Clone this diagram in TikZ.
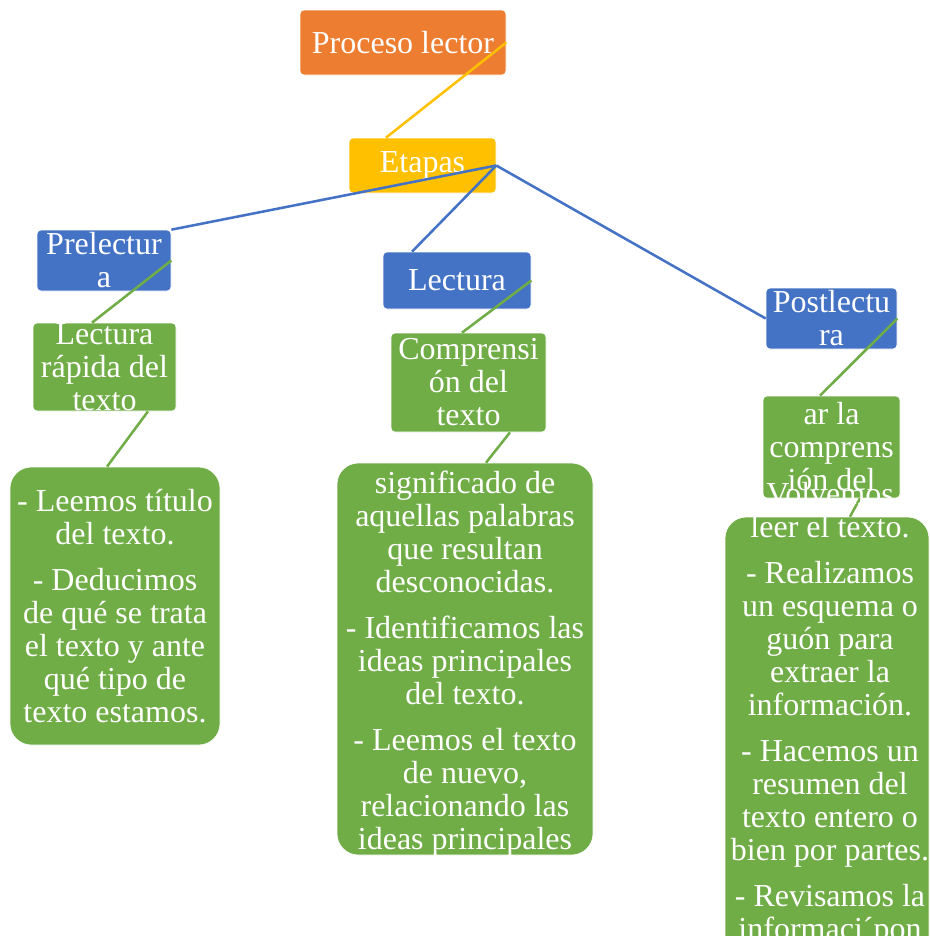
\documentclass[tikz,border=0pt]{standalone}
\usepackage{fontspec}
\setmainfont{Liberation Serif}
\usepackage{tikz}
\usetikzlibrary{shapes}

\definecolor{naranja}{HTML}{ED7D31}
\definecolor{amarillo}{HTML}{FFC000}
\definecolor{azul}{HTML}{4472C4}
\definecolor{verde}{HTML}{70AD47}

\begin{document}
\begin{tikzpicture}[x=0.75pt, y=-0.75pt,
        caja/.style = {draw=white, line width=0.5pt, rounded corners=3pt, text=white, align=center, inner sep=0pt, font=\fontsize{24}{24.75}\selectfont},
        grande/.style = {caja, rounded corners=16pt, fill=verde},
        linea/.style = {line width=1.9pt}]
                \clip (0,0) rectangle (930,936);

                \node[caja, fill=naranja, minimum width=154.5pt, minimum height=48.75pt] at (403, 42.5) (proceso) {Proceso lector};
                \node[caja, fill=amarillo, minimum width=110.25pt, minimum height=41.25pt] at (422.5, 165.5) (etapas) {Etapas};

                \node[caja, fill=azul, minimum width=100.5pt, minimum height=45.75pt] at (104, 260.5) (pre) {Prelectur\\a};
                \node[caja, fill=azul, minimum width=111pt, minimum height=42.75pt] at (457, 280.5) (lec) {Lectura};
                \node[caja, fill=azul, minimum width=98.25pt, minimum height=45.75pt] at (831.5, 318.5) (post) {Postlectu\\ra};

                \node[caja, fill=verde, minimum width=107.25pt, minimum height=66pt] at (104.5, 367) (rapida) {Lectura\\rápida del\\texto};
                \node[caja, fill=verde, minimum width=116.25pt, minimum height=74.25pt] at (468.5, 382.5) (compr) {Comprensi\\ón del\\texto};
                \node[caja, fill=verde, minimum width=102.75pt, minimum height=76.5pt] at (831.5, 447) (compro) {ar la\\comprens\\ión del};

                \node[grande, minimum width=157.5pt, minimum height=208.5pt] at (115, 606) (pasospre) {- Leemos título\\del texto.\\[9.75pt]- Deducimos\\de qué se trata\\el texto y ante\\qué tipo de\\texto estamos.};
                \node[grande, minimum width=192pt, minimum height=294pt] at (465, 659) (pasoslec) {};
                \node[grande, minimum width=153pt, minimum height=332.25pt] at (827, 738.5) (pasospost) {};

                \draw [linea, amarillo] (proceso.east) -- ([xshift=-27.375pt]etapas.north);
                \draw [linea, azul] (etapas.east) -- (pre.north east);
                \draw [linea, azul] (etapas.east) -- ([xshift=-33.75pt]lec.north);
                \draw [linea, azul] (etapas.east) -- (post.west);

                \draw [linea, verde] (pre.east) -- ([xshift=-9.375pt]rapida.north);
                \draw [linea, verde] ([xshift=32.625pt]rapida.south) -- ([xshift=-6pt]pasospre.north);
                \draw [linea, verde] (lec.east) -- ([xshift=-4.875pt]compr.north);
                \draw [linea, verde] ([xshift=31.125pt]compr.south) -- ([xshift=15.75pt]pasoslec.north);
                \draw [linea, verde] (post.east) -- ([xshift=-8.625pt]compro.north);
                \draw [linea, verde] ([xshift=21.375pt]compro.south) -- ([xshift=17.25pt]pasospost.north);

                \node[caja, draw=none] at (465, 664) (textolec) {significado de\\aquellas palabras\\que resultan\\desconocidas.\\[9.75pt]- Identificamos las\\ideas principales\\del texto.\\[9.75pt]- Leemos el texto\\de nuevo,\\relacionando las\\ideas principales};
                \node[caja, draw=none] at (830, 714.5) (textopost) {Volvemos\\leer el texto.\\[9.75pt]- Realizamos\\un esquema o\\guón para\\extraer la\\información.\\[9.75pt]- Hacemos un\\resumen del\\texto entero o\\bien por partes.\\[9.75pt]- Revisamos la\\informaci´pon};
            \end{tikzpicture}
\end{document}
